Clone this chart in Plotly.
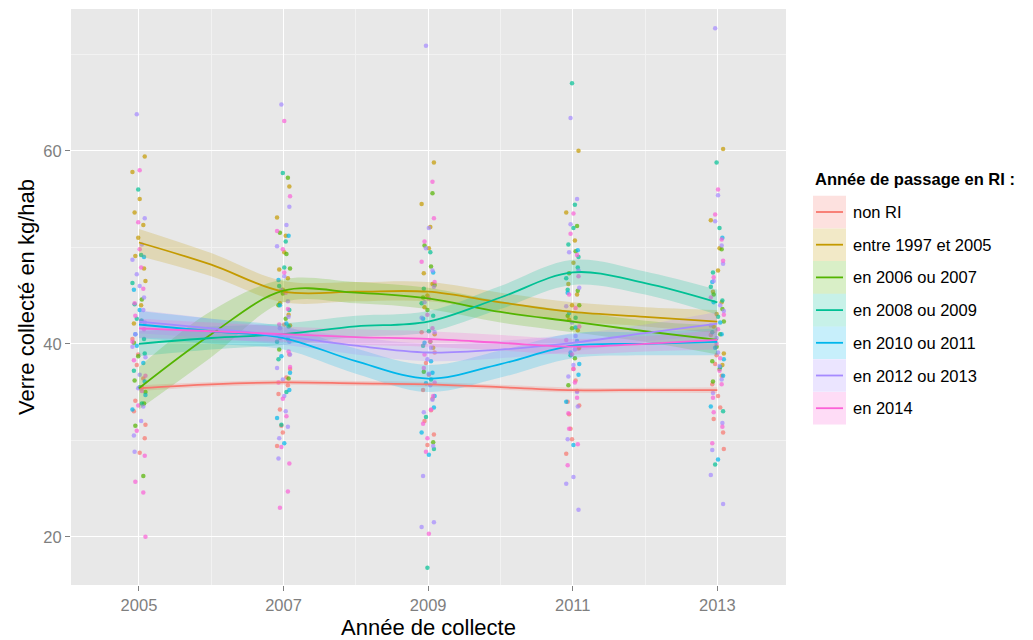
import plotly.graph_objects as go

# ---------------- data ----------------
years = [2005, 2006, 2007, 2008, 2009, 2010, 2011, 2012, 2013]
groups = ["non RI", "entre 1997 et 2005", "en 2006 ou 2007", "en 2008 ou 2009",
          "en 2010 ou 2011", "en 2012 ou 2013", "en 2014"]
colors = ["#F8766D", "#C49A00", "#53B400", "#00C094", "#00B6EB", "#A58AFF", "#FB61D7"]

# smoothed curves (loess)
smooth_non_ri = [35.4, 35.8, 36.0, 35.9, 35.8, 35.5, 35.2, 35.2, 35.2]
smooth_1997_2005 = [50.5, 48.2, 45.4, 45.4, 45.4, 44.3, 43.3, 42.8, 42.3]
smooth_2006_2007 = [35.4, 41.0, 45.5, 45.3, 44.7, 43.3, 42.3, 41.3, 40.4]
smooth_2008_2009 = [40.0, 40.6, 41.0, 41.8, 42.3, 44.8, 47.4, 46.3, 44.3]
smooth_2010_2011 = [42.0, 41.3, 40.6, 38.2, 36.4, 37.9, 39.8, 40.0, 40.2]
smooth_2012_2013 = [42.3, 41.6, 40.8, 39.8, 39.1, 39.4, 40.1, 41.1, 42.1]
smooth_2014 = [41.6, 41.3, 41.0, 40.7, 40.5, 40.1, 39.7, 40.0, 40.4]

# half-width of the confidence bands
ci_non_ri = [0.3, 0.25, 0.25, 0.25, 0.25, 0.25, 0.25, 0.25, 0.3]
ci_1997_2005 = [1.4, 1.2, 1.1, 1.0, 1.0, 1.0, 1.0, 1.0, 1.2]
ci_2006_2007 = [2.2, 2.4, 1.2, 1.1, 1.1, 1.1, 1.1, 1.1, 1.5]
ci_2008_2009 = [1.3, 1.2, 1.1, 1.1, 1.1, 1.2, 1.3, 1.2, 1.3]
ci_2010_2011 = [1.4, 1.3, 1.2, 1.3, 1.4, 1.4, 1.3, 1.2, 1.4]
ci_2012_2013 = [1.2, 1.0, 0.9, 0.9, 0.9, 0.9, 0.9, 0.9, 1.2]
ci_2014 = [1.0, 0.9, 0.8, 0.8, 0.8, 0.8, 0.8, 0.8, 1.0]

# raw points per year (kg/hab)
pts_non_ri = {
    2005: [33.0, 35.5, 37.8, 30.2, 40.5, 28.7, 36.4, 34.1, 31.6, 38.9],
    2007: [34.8, 36.5, 31.5, 38.9, 29.4, 42.0, 35.7, 33.2, 37.4, 30.8],
    2009: [35.2, 33.1, 38.0, 30.6, 41.2, 36.8, 34.3, 32.0, 39.1, 29.5],
    2011: [34.0, 36.2, 31.2, 39.5, 28.6, 37.4, 35.1, 32.7, 33.6, 30.1],
    2013: [35.8, 33.4, 37.9, 30.8, 40.9, 34.6, 36.7, 32.2, 29.1, 38.8],
}
pts_1997_2005 = {
    2005: [59.4, 57.8, 55.0, 52.3, 49.1, 46.5, 51.0, 44.0, 53.6, 47.8, 42.1],
    2007: [56.3, 53.1, 49.5, 46.8, 44.2, 41.9, 45.6, 51.2, 47.7, 43.0],
    2009: [58.8, 54.5, 49.9, 46.2, 43.8, 41.0, 45.0, 52.1, 47.3, 39.6],
    2011: [60.0, 53.6, 48.4, 45.1, 42.5, 39.6, 44.0, 50.7, 46.2, 41.4],
    2013: [60.2, 52.8, 47.6, 44.3, 41.8, 39.0, 43.1, 49.9, 45.4, 37.8],
}
pts_2006_2007 = {
    2005: [26.3, 31.5, 35.0, 38.7, 42.4, 36.2, 33.8, 40.1, 44.6],
    2007: [57.2, 51.5, 47.8, 45.2, 42.6, 39.4, 36.4, 44.0, 49.3],
    2009: [55.6, 50.2, 46.1, 43.5, 40.2, 37.1, 29.8, 44.8, 48.0],
    2011: [52.2, 47.3, 44.0, 41.6, 38.5, 35.7, 45.5, 42.9, 49.6],
    2013: [49.8, 45.1, 42.3, 39.7, 37.4, 36.1, 43.6, 38.2, 41.0],
}
pts_2008_2009 = {
    2005: [56.0, 49.2, 44.1, 40.5, 37.2, 33.8, 42.6, 39.0, 46.3, 35.5],
    2007: [57.7, 50.6, 46.0, 41.8, 38.4, 35.0, 31.6, 43.5, 40.2, 47.9],
    2009: [16.8, 49.5, 45.7, 42.9, 39.8, 36.3, 32.4, 29.1, 44.2, 41.3],
    2011: [67.0, 54.4, 50.3, 47.9, 45.6, 42.7, 38.8, 49.0, 46.8, 52.0],
    2013: [58.8, 52.0, 47.4, 44.5, 41.2, 37.6, 27.5, 33.0, 45.9, 42.8],
}
pts_2010_2011 = {
    2005: [49.0, 45.6, 42.4, 39.8, 36.1, 33.2, 43.5, 38.0, 41.0, 34.7],
    2007: [51.2, 46.6, 42.1, 38.7, 35.2, 32.3, 29.7, 40.5, 44.0, 37.0],
    2009: [47.4, 42.6, 38.2, 35.9, 33.4, 30.8, 28.5, 37.0, 40.1, 34.6],
    2011: [49.7, 45.3, 41.7, 39.1, 36.8, 34.0, 29.5, 40.3, 43.2, 37.9],
    2013: [51.0, 46.4, 42.2, 39.6, 36.7, 33.5, 28.0, 41.0, 44.3, 38.4],
}
pts_2012_2013 = {
    2005: [63.8, 53.0, 48.7, 46.0, 43.5, 41.0, 38.6, 35.4, 32.0, 28.8, 44.8, 30.5, 50.3, 47.2, 42.2, 39.7, 36.8, 33.5],
    2007: [64.8, 54.2, 50.1, 47.0, 44.4, 41.6, 38.9, 36.3, 33.0, 30.2, 42.8, 28.1, 52.3, 45.6, 40.2, 37.5, 34.6, 31.4],
    2009: [70.9, 21.5, 21.0, 52.0, 47.6, 44.3, 41.2, 38.4, 35.7, 32.9, 29.4, 26.3, 39.6, 49.9, 45.9, 42.7, 36.9, 34.2],
    2011: [63.4, 22.8, 25.5, 26.2, 55.0, 49.5, 45.8, 42.2, 39.4, 36.6, 33.5, 30.1, 40.8, 52.4, 47.6, 43.9, 37.8, 35.0],
    2013: [72.7, 23.4, 26.4, 55.4, 50.2, 46.5, 43.4, 40.6, 37.7, 34.9, 31.8, 29.0, 44.0, 52.7, 48.3, 41.9, 39.1, 36.3],
}
pts_2014 = {
    2005: [58.0, 24.6, 25.7, 20.0, 52.6, 47.9, 44.2, 41.5, 38.3, 35.1, 31.0, 28.4, 40.2, 49.8, 45.7, 42.9, 36.7, 33.6],
    2007: [63.1, 24.7, 23.0, 55.3, 49.8, 45.3, 42.0, 39.2, 36.0, 32.5, 29.3, 27.6, 51.7, 47.4, 43.6, 40.6, 37.6, 34.3],
    2009: [20.3, 56.8, 50.6, 46.4, 43.0, 40.3, 37.5, 34.6, 31.7, 33.2, 28.8, 53.0, 48.5, 44.7, 41.6, 38.9, 36.0, 30.2],
    2011: [53.5, 49.2, 45.1, 41.8, 38.9, 36.0, 32.8, 29.6, 27.4, 43.7, 51.4, 47.0, 40.4, 37.4, 34.4, 31.2],
    2013: [56.0, 50.8, 46.9, 43.0, 40.0, 37.2, 34.4, 31.4, 29.7, 38.5, 53.4, 48.6, 44.8, 41.5, 35.8, 32.9],
}

x_ticks = [2005, 2007, 2009, 2011, 2013]
y_ticks = [20, 40, 60]

smooths = [smooth_non_ri, smooth_1997_2005, smooth_2006_2007, smooth_2008_2009,
           smooth_2010_2011, smooth_2012_2013, smooth_2014]
cis = [ci_non_ri, ci_1997_2005, ci_2006_2007, ci_2008_2009, ci_2010_2011, ci_2012_2013, ci_2014]
pts = [pts_non_ri, pts_1997_2005, pts_2006_2007, pts_2008_2009, pts_2010_2011,
       pts_2012_2013, pts_2014]

# horizontal jitter pattern (visual only)
JITTER = [-0.07, 0.04, -0.03, 0.08, -0.09, 0.01, 0.06, -0.05, 0.09, -0.01, 0.03, -0.06, 0.07]


def rgba(hex_color, a):
    h = hex_color.lstrip("#")
    r, g, b = int(h[0:2], 16), int(h[2:4], 16), int(h[4:6], 16)
    return f"rgba({r},{g},{b},{a})"


fig = go.Figure()

# points
for gi, (g, c) in enumerate(zip(groups, colors)):
    xs, ys = [], []
    for yr, vals in pts[gi].items():
        for k, v in enumerate(vals):
            xs.append(yr + JITTER[(k + gi * 3) % len(JITTER)])
            ys.append(v)
    fig.add_trace(go.Scatter(x=xs, y=ys, mode="markers", showlegend=False,
                             marker=dict(color=c, size=4.5, opacity=0.7),
                             hoverinfo="skip"))

# confidence bands
for gi, (g, c) in enumerate(zip(groups, colors)):
    lo = [m - h for m, h in zip(smooths[gi], cis[gi])]
    hi = [m + h for m, h in zip(smooths[gi], cis[gi])]
    fig.add_trace(go.Scatter(x=years, y=lo, mode="lines", line=dict(width=0, shape="spline"),
                             showlegend=False, hoverinfo="skip"))
    fig.add_trace(go.Scatter(x=years, y=hi, mode="lines", line=dict(width=0, shape="spline"),
                             fill="tonexty", fillcolor=rgba(c, 0.22),
                             showlegend=False, hoverinfo="skip"))

# smooth lines
for gi, (g, c) in enumerate(zip(groups, colors)):
    fig.add_trace(go.Scatter(x=years, y=smooths[gi], mode="lines", name=g,
                             line=dict(color=c, width=1.8, shape="spline", smoothing=1.0),
                             showlegend=False))

# ---------------- layout ----------------
L, R, T, B = 71, 247, 9, 55
W, H = 1033, 640
pw, ph = W - L - R, H - T - B


def px_x(px):
    return (px - L) / pw


def px_y(py):
    return (H - B - py) / ph


FONT = "Liberation Sans, Arial, Helvetica, sans-serif"

shapes, annotations = [], []
# manual legend (ggplot style)
annotations.append(dict(xref="paper", yref="paper", x=px_x(813), y=px_y(179),
                        xanchor="left", yanchor="middle", showarrow=False,
                        text="<b>Année de passage en RI :</b>",
                        font=dict(family=FONT, size=16.5, color="#000000")))
for gi, (g, c) in enumerate(zip(groups, colors)):
    yc = 212 + gi * 32.7
    shapes.append(dict(type="rect", xref="paper", yref="paper",
                       x0=px_x(813), x1=px_x(846), y0=px_y(yc - 16.3), y1=px_y(yc + 16.3),
                       fillcolor=rgba(c, 0.22), line=dict(width=0), layer="above"))
    shapes.append(dict(type="line", xref="paper", yref="paper",
                       x0=px_x(816), x1=px_x(843), y0=px_y(yc), y1=px_y(yc),
                       line=dict(color=c, width=1.8), layer="above"))
    annotations.append(dict(xref="paper", yref="paper", x=px_x(851), y=px_y(yc),
                            xanchor="left", yanchor="middle", showarrow=False, text=g,
                            font=dict(family=FONT, size=16.5, color="#000000")))

fig.update_layout(
    width=W, height=H,
    margin=dict(l=L, r=R, t=T, b=B, pad=0, autoexpand=False),
    paper_bgcolor="white", plot_bgcolor="#E8E8E8",
    font=dict(family=FONT),
    showlegend=False,
    shapes=shapes, annotations=annotations,
    xaxis=dict(range=[2004.06, 2013.95], tickvals=x_ticks, ticktext=[str(v) for v in x_ticks],
               showgrid=True, gridcolor="white", gridwidth=1.4, zeroline=False,
               ticks="outside", ticklen=5, tickcolor="#7F7F7F", tickwidth=1,
               tickfont=dict(size=16.5, color="#7F7F7F", family=FONT),
               minor=dict(dtick=1, tick0=2004, showgrid=True, gridcolor="#F2F2F2",
                          gridwidth=0.7, ticks=""),
               title=dict(text="Année de collecte", font=dict(size=22, color="#000000", family=FONT),
                          standoff=9),
               automargin=False, showline=False),
    yaxis=dict(range=[15.0, 74.7], tickvals=y_ticks, ticktext=[str(v) for v in y_ticks],
               showgrid=True, gridcolor="white", gridwidth=1.4, zeroline=False,
               ticks="outside", ticklen=5, tickcolor="#7F7F7F", tickwidth=1,
               tickfont=dict(size=16.5, color="#7F7F7F", family=FONT),
               minor=dict(dtick=10, tick0=0, showgrid=True, gridcolor="#F2F2F2",
                          gridwidth=0.7, ticks=""),
               title=dict(text="Verre collecté en kg/hab", font=dict(size=22, color="#000000", family=FONT),
                          standoff=2),
               automargin=False, showline=False),
)

fig.write_html("out.html")
